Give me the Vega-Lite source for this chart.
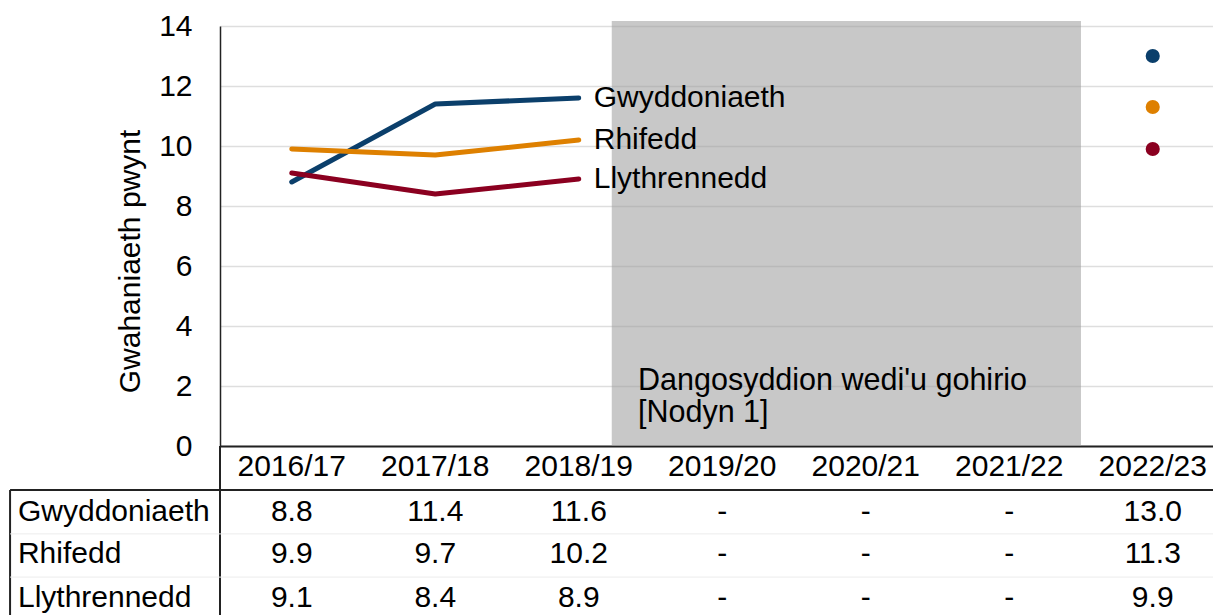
{
  "$schema": "https://vega.github.io/schema/vega-lite/v6.json",
  "width": 993,
  "height": 420,
  "autosize": {"type": "none"},
  "padding": {"left": 220, "top": 26, "right": 0, "bottom": 169},
  "background": "white",
  "config": {"view": {"stroke": null}, "font": "Liberation Sans", "text": {"font": "Liberation Sans", "color": "black"}},
  "datasets": {
    "scores": [
      {"year": "2016/17", "i": 0, "subject": "Gwyddoniaeth", "value": 8.8},
      {"year": "2017/18", "i": 1, "subject": "Gwyddoniaeth", "value": 11.4},
      {"year": "2018/19", "i": 2, "subject": "Gwyddoniaeth", "value": 11.6},
      {"year": "2019/20", "i": 3, "subject": "Gwyddoniaeth", "value": null},
      {"year": "2020/21", "i": 4, "subject": "Gwyddoniaeth", "value": null},
      {"year": "2021/22", "i": 5, "subject": "Gwyddoniaeth", "value": null},
      {"year": "2022/23", "i": 6, "subject": "Gwyddoniaeth", "value": 13.0},
      {"year": "2016/17", "i": 0, "subject": "Rhifedd", "value": 9.9},
      {"year": "2017/18", "i": 1, "subject": "Rhifedd", "value": 9.7},
      {"year": "2018/19", "i": 2, "subject": "Rhifedd", "value": 10.2},
      {"year": "2019/20", "i": 3, "subject": "Rhifedd", "value": null},
      {"year": "2020/21", "i": 4, "subject": "Rhifedd", "value": null},
      {"year": "2021/22", "i": 5, "subject": "Rhifedd", "value": null},
      {"year": "2022/23", "i": 6, "subject": "Rhifedd", "value": 11.3},
      {"year": "2016/17", "i": 0, "subject": "Llythrennedd", "value": 9.1},
      {"year": "2017/18", "i": 1, "subject": "Llythrennedd", "value": 8.4},
      {"year": "2018/19", "i": 2, "subject": "Llythrennedd", "value": 8.9},
      {"year": "2019/20", "i": 3, "subject": "Llythrennedd", "value": null},
      {"year": "2020/21", "i": 4, "subject": "Llythrennedd", "value": null},
      {"year": "2021/22", "i": 5, "subject": "Llythrennedd", "value": null},
      {"year": "2022/23", "i": 6, "subject": "Llythrennedd", "value": 9.9}
    ]
  },
  "data": {"name": "scores"},
  "transform": [
    {"calculate": "isValid(datum.value) ? format(datum.value, '.1f') : '-'", "as": "label"}
  ],
  "layer": [
    {
      "data": {"values": [{}]},
      "mark": {"type": "rect", "color": "#999999", "opacity": 0.54},
      "encoding": {
        "x": {"datum": 2.23, "type": "quantitative", "scale": {"domain": [-0.5, 6.42], "nice": false, "zero": false},
              "axis": {"domain": true, "domainColor": "#222222", "domainWidth": 2, "labels": false, "ticks": false, "grid": false, "title": ""}},
        "x2": {"datum": 5.5},
        "y": {"datum": 14.17, "type": "quantitative", "scale": {"domain": [0, 14], "nice": false, "zero": false},
              "axis": {"values": [0, 2, 4, 6, 8, 10, 12, 14], "grid": true, "gridColor": "#dedede", "gridWidth": 1.5,
                       "domain": true, "domainColor": "#222222", "domainWidth": 1.5, "ticks": false, "tickSize": 0,
                       "labelFontSize": 30, "labelPadding": 28, "labelColor": "black", "labelFont": "Liberation Sans",
                       "title": "Gwahaniaeth pwynt", "titleFontSize": 30, "titleFontWeight": "normal", "titleColor": "black",
                       "titleFont": "Liberation Sans", "titleX": -90, "titleY": 235, "titleAngle": -90, "titleAlign": "center", "titleBaseline": "middle"}},
        "y2": {"datum": 0}
      }
    },
    {
      "transform": [{"filter": "datum.i <= 2"}],
      "mark": {"type": "line", "strokeWidth": 5, "strokeCap": "round", "strokeJoin": "round"},
      "encoding": {
        "x": {"field": "i", "type": "quantitative"},
        "y": {"field": "value", "type": "quantitative"},
        "color": {"field": "subject", "type": "nominal", "legend": null,
                  "scale": {"domain": ["Gwyddoniaeth", "Rhifedd", "Llythrennedd"], "range": ["#0b3f6b", "#de8000", "#8b0020"]}}
      }
    },
    {
      "transform": [{"filter": "datum.i == 6"}],
      "mark": {"type": "point", "shape": "circle", "filled": true, "opacity": 1, "size": 200},
      "encoding": {
        "x": {"field": "i", "type": "quantitative"},
        "y": {"field": "value", "type": "quantitative"},
        "color": {"field": "subject", "type": "nominal", "legend": null}
      }
    },
    {
      "transform": [{"filter": "datum.i == 2"}],
      "mark": {"type": "text", "align": "left", "baseline": "middle", "dx": 15, "fontSize": 30},
      "encoding": {
        "x": {"field": "i", "type": "quantitative"},
        "y": {"field": "value", "type": "quantitative"},
        "text": {"field": "subject"}
      }
    },
    {
      "data": {"values": [{"note": ["Dangosyddion wedi'u gohirio", "[Nodyn 1]"]}]},
      "mark": {"type": "text", "align": "left", "baseline": "top", "fontSize": 30.5, "lineHeight": 32},
      "encoding": {
        "x": {"datum": 2.413, "type": "quantitative"},
        "y": {"datum": 2.67, "type": "quantitative"},
        "text": {"field": "note"}
      }
    },
    {
      "data": {"values": [{}]},
      "mark": {"type": "rule", "color": "#222222", "strokeWidth": 2},
      "encoding": {"x": {"datum": -1.963, "type": "quantitative"}, "x2": {"datum": 6.42},
                   "y": {"datum": -1.467, "type": "quantitative"}}
    },
    {
      "data": {"values": [{}]},
      "mark": {"type": "rule", "color": "#222222", "strokeWidth": 2},
      "encoding": {"x": {"datum": -1.963, "type": "quantitative"},
                   "y": {"datum": -1.467, "type": "quantitative"}, "y2": {"datum": -5.8}}
    },
    {
      "data": {"values": [{}]},
      "mark": {"type": "rule", "color": "#222222", "strokeWidth": 2},
      "encoding": {"x": {"datum": -0.5, "type": "quantitative"},
                   "y": {"datum": 0, "type": "quantitative"}, "y2": {"datum": -5.8}}
    },
    {
      "data": {"values": [{"sep": -2.93}, {"sep": -4.37}]},
      "mark": {"type": "rule", "color": "#ececec", "strokeWidth": 1},
      "encoding": {"x": {"datum": -1.963, "type": "quantitative"}, "x2": {"datum": 6.42},
                   "y": {"field": "sep", "type": "quantitative"}}
    },
    {
      "transform": [{"filter": "datum.subject == 'Gwyddoniaeth'"}],
      "mark": {"type": "text", "align": "center", "baseline": "middle", "fontSize": 30},
      "encoding": {
        "x": {"field": "i", "type": "quantitative"},
        "y": {"datum": -0.7, "type": "quantitative"},
        "text": {"field": "year"}
      }
    },
    {
      "transform": [{"filter": "datum.subject == 'Gwyddoniaeth'"}],
      "mark": {"type": "text", "align": "center", "baseline": "middle", "fontSize": 30},
      "encoding": {
        "x": {"field": "i", "type": "quantitative"},
        "y": {"datum": -2.2, "type": "quantitative"},
        "text": {"field": "label"}
      }
    },
    {
      "transform": [{"filter": "datum.subject == 'Rhifedd'"}],
      "mark": {"type": "text", "align": "center", "baseline": "middle", "fontSize": 30},
      "encoding": {
        "x": {"field": "i", "type": "quantitative"},
        "y": {"datum": -3.6, "type": "quantitative"},
        "text": {"field": "label"}
      }
    },
    {
      "transform": [{"filter": "datum.subject == 'Llythrennedd'"}],
      "mark": {"type": "text", "align": "center", "baseline": "middle", "fontSize": 30},
      "encoding": {
        "x": {"field": "i", "type": "quantitative"},
        "y": {"datum": -5.07, "type": "quantitative"},
        "text": {"field": "label"}
      }
    },
    {
      "transform": [{"filter": "datum.i == 0 && datum.subject == 'Gwyddoniaeth'"}],
      "mark": {"type": "text", "align": "left", "baseline": "middle", "fontSize": 30},
      "encoding": {
        "x": {"datum": -1.908, "type": "quantitative"},
        "y": {"datum": -2.2, "type": "quantitative"},
        "text": {"field": "subject"}
      }
    },
    {
      "transform": [{"filter": "datum.i == 0 && datum.subject == 'Rhifedd'"}],
      "mark": {"type": "text", "align": "left", "baseline": "middle", "fontSize": 30},
      "encoding": {
        "x": {"datum": -1.908, "type": "quantitative"},
        "y": {"datum": -3.6, "type": "quantitative"},
        "text": {"field": "subject"}
      }
    },
    {
      "transform": [{"filter": "datum.i == 0 && datum.subject == 'Llythrennedd'"}],
      "mark": {"type": "text", "align": "left", "baseline": "middle", "fontSize": 30},
      "encoding": {
        "x": {"datum": -1.908, "type": "quantitative"},
        "y": {"datum": -5.07, "type": "quantitative"},
        "text": {"field": "subject"}
      }
    }
  ]
}
